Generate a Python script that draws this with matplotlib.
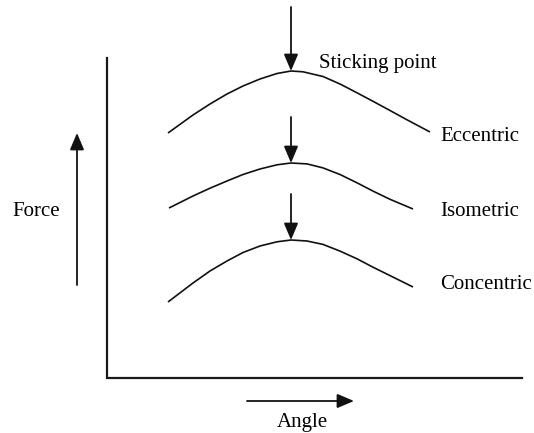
import matplotlib.pyplot as plt

# Force-angle schematic (sticking point), coordinates in pixels

# curves: angle (x) and force (y, measured downwards from the top)
eccentric_x = [168, 193, 210, 227, 243, 260, 277, 291, 303, 323, 340, 357, 373, 390, 407, 430]
eccentric_y = [133, 115, 104, 94, 86, 79, 73.5, 71, 71.8, 76.5, 84, 92.8, 101.3, 110.5, 119.8, 132]

isometric_x = [169, 193, 210, 227, 243, 260, 277, 291, 307, 323, 340, 357, 373, 390, 413]
isometric_y = [208, 196, 188.2, 181, 174.5, 169, 164.8, 163, 163.9, 167.9, 174.5, 182.8, 191.1, 199.3, 209]

concentric_x = [168, 193, 210, 227, 243, 260, 277, 291, 307, 323, 340, 357, 373, 390, 413]
concentric_y = [302, 283, 271, 261, 252.5, 246, 241.8, 240, 241, 244.4, 251.1, 258.8, 267.2, 275.6, 287]

curve_names = ["Eccentric", "Isometric", "Concentric"]
label_baselines = [141, 216, 289]

# sticking point arrows (start y, tip y) at the peak angle
peak_x = 291
sticking_start = [7, 117, 194]
sticking_tip = [71, 163, 240]

plt.rcParams['font.family'] = ['Liberation Serif', 'DejaVu Serif']

fig = plt.figure(figsize=(5.34, 4.33), dpi=100)
ax = fig.add_axes([0, 0, 1, 1])
ax.set_xlim(0, 534)
ax.set_ylim(433, 0)
ax.axis('off')

# L shaped axes
ax.plot([107, 107, 522], [58, 378, 378], color='#1a1a1a', lw=1.6, solid_joinstyle='miter')

for xs, ys in [(eccentric_x, eccentric_y), (isometric_x, isometric_y), (concentric_x, concentric_y)]:
    ax.plot(xs, ys, color='#111111', lw=1.2, solid_capstyle='butt', solid_joinstyle='round')

arrow = dict(arrowstyle='-|>,head_length=0.85,head_width=0.36', mutation_scale=12,
             color='#111111', lw=1.3, shrinkA=0, shrinkB=0)

for y0, y1 in zip(sticking_start, sticking_tip):
    ax.annotate('', xy=(peak_x, y1), xytext=(peak_x, y0), arrowprops=arrow)

# force and angle arrows
ax.annotate('', xy=(77, 133), xytext=(77, 285), arrowprops=arrow)
ax.annotate('', xy=(354, 401), xytext=(247, 401), arrowprops=arrow)

ax.text(319, 68, "Sticking point", fontsize=15, va='baseline', ha='left')
for name, yb in zip(curve_names, label_baselines):
    ax.text(440, yb, name, fontsize=15, va='baseline', ha='left')
ax.text(12, 216, "Force", fontsize=15, va='baseline', ha='left')
ax.text(302, 427, "Angle", fontsize=15, va='baseline', ha='center')

fig.savefig("out.png", dpi=100)
